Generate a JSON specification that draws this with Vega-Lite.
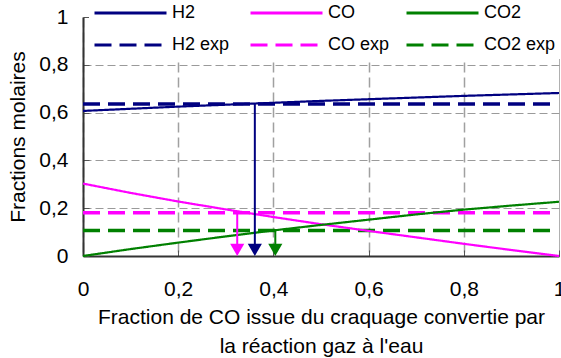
{
  "$schema": "https://vega.github.io/schema/vega-lite/v6.json",
  "width": 476,
  "height": 239,
  "autosize": {"type": "none"},
  "padding": {"left": 83, "top": 17, "right": 2, "bottom": 102},
  "background": "white",
  "config": {
    "font": "Liberation Sans",
    "view": {"stroke": null},
    "axis": {
      "labelFontSize": 21,
      "labelColor": "black",
      "labelFlush": false,
      "titleFontSize": 21,
      "titleFontWeight": "normal",
      "titleColor": "black",
      "gridColor": "#9a9a9a",
      "gridWidth": 1,
      "domainColor": "#333333",
      "domainWidth": 2,
      "tickColor": "#555555",
      "tickSize": -6,
      "labelFont": "Liberation Sans",
      "titleFont": "Liberation Sans"
    },
    "legend": {"labelFont": "Liberation Sans"}
  },
  "datasets": {
    "curves": [
      {"series": "H2", "x": 0, "y": 0.607},
      {"series": "H2", "x": 0.1, "y": 0.616},
      {"series": "H2", "x": 0.2, "y": 0.625},
      {"series": "H2", "x": 0.3, "y": 0.633},
      {"series": "H2", "x": 0.4, "y": 0.641},
      {"series": "H2", "x": 0.5, "y": 0.649},
      {"series": "H2", "x": 0.6, "y": 0.656},
      {"series": "H2", "x": 0.7, "y": 0.663},
      {"series": "H2", "x": 0.8, "y": 0.67},
      {"series": "H2", "x": 0.9, "y": 0.676},
      {"series": "H2", "x": 1, "y": 0.682},
      {"series": "CO", "x": 0, "y": 0.303},
      {"series": "CO", "x": 0.1, "y": 0.264},
      {"series": "CO", "x": 0.2, "y": 0.228},
      {"series": "CO", "x": 0.3, "y": 0.195},
      {"series": "CO", "x": 0.4, "y": 0.163},
      {"series": "CO", "x": 0.5, "y": 0.133},
      {"series": "CO", "x": 0.6, "y": 0.105},
      {"series": "CO", "x": 0.7, "y": 0.078},
      {"series": "CO", "x": 0.8, "y": 0.051},
      {"series": "CO", "x": 0.9, "y": 0.025},
      {"series": "CO", "x": 1, "y": 0},
      {"series": "CO2", "x": 0, "y": 0},
      {"series": "CO2", "x": 0.1, "y": 0.029},
      {"series": "CO2", "x": 0.2, "y": 0.056},
      {"series": "CO2", "x": 0.3, "y": 0.082},
      {"series": "CO2", "x": 0.4, "y": 0.107},
      {"series": "CO2", "x": 0.5, "y": 0.13},
      {"series": "CO2", "x": 0.6, "y": 0.152},
      {"series": "CO2", "x": 0.7, "y": 0.174},
      {"series": "CO2", "x": 0.8, "y": 0.194},
      {"series": "CO2", "x": 0.9, "y": 0.211},
      {"series": "CO2", "x": 1, "y": 0.227}
    ],
    "exp": [
      {"series": "H2 exp", "x": 0, "y": 0.636},
      {"series": "H2 exp", "x": 0.99, "y": 0.636},
      {"series": "CO exp", "x": 0, "y": 0.181},
      {"series": "CO exp", "x": 0.99, "y": 0.181},
      {"series": "CO2 exp", "x": 0, "y": 0.107},
      {"series": "CO2 exp", "x": 0.99, "y": 0.107}
    ],
    "arrows": [
      {"series": "H2", "x": 0.361, "y": 0.636},
      {"series": "CO", "x": 0.324, "y": 0.181},
      {"series": "CO2", "x": 0.404, "y": 0.107}
    ]
  },
  "layer": [
    {
      "data": {"name": "exp"},
      "mark": {"type": "line", "strokeWidth": 3.5},
      "encoding": {
        "x": {
          "field": "x",
          "type": "quantitative",
          "scale": {"domain": [0, 1], "nice": false},
          "axis": {
            "values": [0, 0.2, 0.4, 0.6, 0.8, 1],
            "labelExpr": "replace(format(datum.value, '.1~f'), '.', ',')",
            "labelFlush": false,
            "labelPadding": 28,
            "gridDash": {"condition": {"test": "datum.value == 1", "value": []}, "value": [10, 5]},
            "gridColor": {"condition": {"test": "datum.value == 1", "value": "#b0b0b0"}, "value": "#a0a0a0"},
            "gridWidth": {"condition": {"test": "datum.value == 1", "value": 1}, "value": 1.5},
            "title": ["Fraction de CO issue du craquage convertie par", "la réaction gaz à l'eau"],
            "titleLineHeight": 29,
            "titlePadding": 7
          }
        },
        "y": {
          "field": "y",
          "type": "quantitative",
          "scale": {"domain": [0, 1], "nice": false},
          "axis": {
            "values": [0, 0.2, 0.4, 0.6, 0.8, 1],
            "labelExpr": "replace(format(datum.value, '.1~f'), '.', ',')",
            "labelFlush": false,
            "labelPadding": 21,
            "gridDash": [8, 4],
            "gridOpacity": {"condition": {"test": "datum.value == 1", "value": 0}, "value": 1},
            "title": "Fractions molaires",
            "titlePadding": 10
          }
        },
        "color": {
          "field": "series",
          "type": "nominal",
          "scale": {
            "domain": ["H2", "CO", "CO2", "H2 exp", "CO exp", "CO2 exp"],
            "range": ["#000080", "#ff00ff", "#008000", "#000080", "#ff00ff", "#008000"]
          },
          "legend": {
            "orient": "none",
            "legendX": 6,
            "legendY": -18,
            "direction": "horizontal",
            "columns": 3,
            "title": null,
            "symbolType": "stroke",
            "symbolSize": 5184,
            "symbolStrokeWidth": 3,
            "clipHeight": 20,
            "labelFontSize": 18,
            "labelColor": "black",
            "labelOffset": 4,
            "fillColor": "white",
            "padding": 4,
            "columnPadding": 5,
            "rowPadding": 12,
            "gridAlign": "all"
          }
        },
        "strokeDash": {
          "field": "series",
          "type": "nominal",
          "scale": {
            "domain": ["H2", "CO", "CO2", "H2 exp", "CO exp", "CO2 exp"],
            "range": [[1, 0], [1, 0], [1, 0], [17, 8], [17, 8], [17, 8]]
          }
        }
      }
    },
    {
      "data": {"name": "curves"},
      "mark": {"type": "line", "strokeWidth": 2.2},
      "encoding": {
        "x": {"field": "x", "type": "quantitative"},
        "y": {"field": "y", "type": "quantitative"},
        "color": {"field": "series", "type": "nominal"},
        "strokeDash": {"field": "series", "type": "nominal"}
      }
    },
    {
      "data": {"name": "arrows"},
      "mark": {"type": "rule", "strokeWidth": 2},
      "encoding": {
        "x": {"field": "x", "type": "quantitative"},
        "y": {"field": "y", "type": "quantitative"},
        "y2": {"datum": 0.04},
        "color": {"field": "series", "type": "nominal", "legend": null}
      }
    },
    {
      "data": {"name": "arrows"},
      "mark": {"type": "point", "shape": "triangle-down", "filled": true, "size": 200, "opacity": 1},
      "encoding": {
        "x": {"field": "x", "type": "quantitative"},
        "y": {"datum": 0.026},
        "color": {"field": "series", "type": "nominal", "legend": null}
      }
    }
  ]
}
